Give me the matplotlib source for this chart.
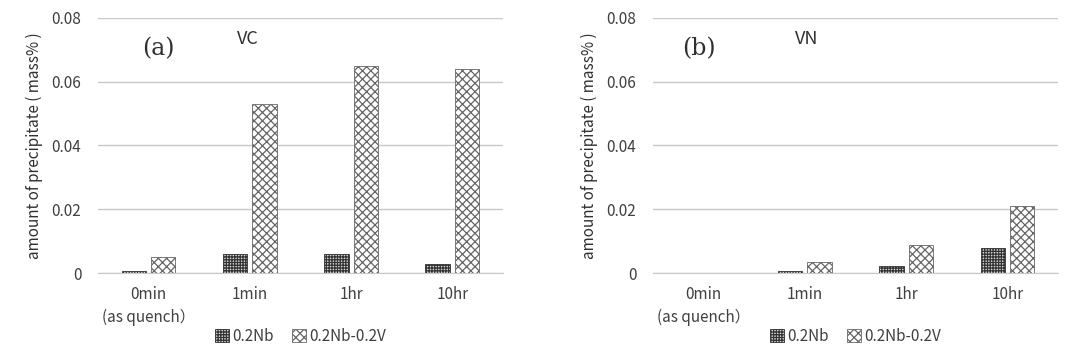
import numpy as np
import matplotlib
matplotlib.use("Agg")
import matplotlib.pyplot as plt

plt.rcParams['font.family'] = ['Noto Sans CJK JP', 'DejaVu Sans']
plt.rcParams['hatch.linewidth'] = 0.9

categories = ["0min\n(as quench\uff09", "1min", "1hr", "10hr"]
series = ["0.2Nb", "0.2Nb-0.2V"]
vc_nb = [0.0008, 0.006, 0.006, 0.003]
vc_nbv = [0.005, 0.053, 0.065, 0.064]
vn_nb = [0.0, 0.0005, 0.0021, 0.0078]
vn_nbv = [0.0, 0.0034, 0.0089, 0.021]
yticks = [0, 0.02, 0.04, 0.06, 0.08]
yticklabels = ["0", "0.02", "0.04", "0.06", "0.08"]

fig = plt.figure(figsize=(10.8, 3.51), dpi=100)
ax1 = fig.add_axes([0.0907, 0.222, 0.375, 0.727])
ax2 = fig.add_axes([0.6046, 0.222, 0.375, 0.727])

def draw(ax, nb, nbv, tag, name, tagx, namex):
    x = np.arange(len(categories))
    w = 0.24
    ax.bar(x - 0.145, nb, w, color='#d8d8d8', edgecolor='#333333',
           hatch='++++++', linewidth=0.6, label=series[0], zorder=3)
    ax.bar(x + 0.145, nbv, w, color='white', edgecolor='#666666',
           hatch='xxxx', linewidth=0.6, label=series[1], zorder=3)
    ax.set_xlim(-0.5, 3.5)
    ax.set_ylim(0, 0.08)
    ax.set_yticks(yticks)
    ax.set_yticklabels(yticklabels)
    ax.set_xticks(x)
    ax.set_xticklabels(categories, linespacing=1.5)
    ax.tick_params(length=0, labelsize=11, colors='#404040', pad=9)
    ax.tick_params(axis='y', pad=12)
    ax.grid(axis='y', color='#c8c8c8', linewidth=1, zorder=0)
    for s in ['top', 'right', 'left']:
        ax.spines[s].set_visible(False)
    ax.spines['bottom'].set_color('#c8c8c8')
    ax.set_ylabel("amount of precipitate ( mass% )", fontsize=11, color='#303030', labelpad=6)
    ax.text(tagx, 0.0705, tag, fontsize=17, family='DejaVu Serif', color='#303030',
            ha='center', va='center')
    ax.text(namex, 0.0735, name, fontsize=13, color='#303030', ha='center', va='center')
    ax.legend(ncol=2, loc='upper center', bbox_to_anchor=(0.5, -0.16), frameon=False,
              fontsize=11, handlelength=0.9, handleheight=0.9, handletextpad=0.2,
              columnspacing=1.2, labelcolor='#404040')

draw(ax1, vc_nb, vc_nbv, "(a)", "VC", 0.1, 0.98)
draw(ax2, vn_nb, vn_nbv, "(b)", "VN", -0.05, 1.02)

fig.savefig("out.png", dpi=100)
